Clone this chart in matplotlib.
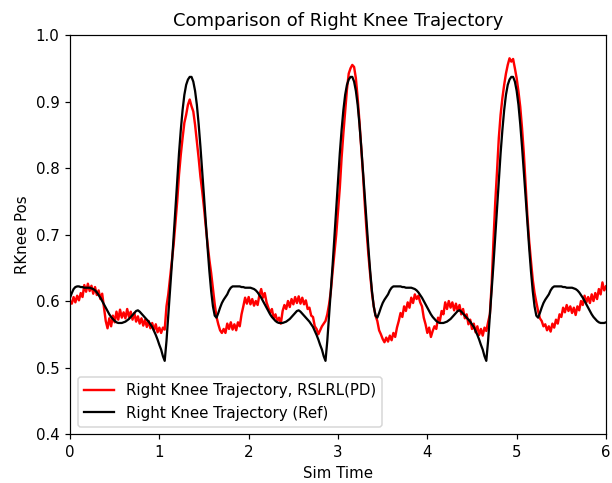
import numpy as np
import matplotlib
matplotlib.use("Agg")
import matplotlib.pyplot as plt

# simulation time, sampled every 0.02 s
sim_time = np.linspace(0, 6, 301)

# right knee position from the RSLRL(PD) policy rollout
knee_policy = [
    0.600, 0.596, 0.606, 0.598, 0.608, 0.601, 0.612, 0.606, 0.624, 0.614,
    0.626, 0.615, 0.623, 0.611, 0.621, 0.609, 0.616, 0.603, 0.611, 0.590,
    0.570, 0.559, 0.574, 0.562, 0.578, 0.568, 0.584, 0.572, 0.587, 0.575,
    0.583, 0.574, 0.588, 0.576, 0.584, 0.572, 0.582, 0.569, 0.577, 0.566,
    0.574, 0.563, 0.572, 0.561, 0.570, 0.559, 0.567, 0.556, 0.565, 0.553,
    0.560, 0.552, 0.560, 0.557, 0.592, 0.610, 0.635, 0.660, 0.685, 0.718,
    0.750, 0.790, 0.820, 0.845, 0.868, 0.880, 0.895, 0.903, 0.893, 0.885,
    0.865, 0.840, 0.815, 0.787, 0.765, 0.740, 0.712, 0.686, 0.662, 0.642,
    0.618, 0.595, 0.576, 0.565, 0.556, 0.552, 0.558, 0.552, 0.566, 0.558,
    0.568, 0.557, 0.565, 0.556, 0.568, 0.562, 0.580, 0.592, 0.605, 0.596,
    0.606, 0.595, 0.603, 0.593, 0.600, 0.594, 0.609, 0.618, 0.605, 0.612,
    0.598, 0.590, 0.582, 0.588, 0.574, 0.580, 0.570, 0.575, 0.566, 0.585,
    0.594, 0.588, 0.600, 0.591, 0.603, 0.595, 0.606, 0.597, 0.607, 0.596,
    0.605, 0.595, 0.601, 0.588, 0.590, 0.578, 0.576, 0.562, 0.558, 0.550,
    0.556, 0.562, 0.566, 0.570, 0.580, 0.595, 0.615, 0.645, 0.672, 0.700,
    0.735, 0.770, 0.815, 0.852, 0.885, 0.918, 0.942, 0.950, 0.955, 0.952,
    0.935, 0.905, 0.870, 0.830, 0.790, 0.745, 0.705, 0.670, 0.640, 0.612,
    0.592, 0.578, 0.570, 0.556, 0.550, 0.543, 0.538, 0.545, 0.539, 0.548,
    0.541, 0.552, 0.546, 0.560, 0.570, 0.582, 0.576, 0.592, 0.585, 0.598,
    0.590, 0.605, 0.597, 0.610, 0.603, 0.608, 0.598, 0.592, 0.575, 0.565,
    0.552, 0.560, 0.546, 0.555, 0.562, 0.558, 0.575, 0.570, 0.585, 0.580,
    0.598, 0.588, 0.600, 0.590, 0.598, 0.586, 0.596, 0.585, 0.594, 0.580,
    0.588, 0.574, 0.580, 0.565, 0.572, 0.558, 0.566, 0.553, 0.562, 0.549,
    0.558, 0.548, 0.560, 0.555, 0.568, 0.580, 0.625, 0.690, 0.748, 0.795,
    0.845, 0.880, 0.905, 0.925, 0.942, 0.955, 0.965, 0.960, 0.964, 0.950,
    0.935, 0.915, 0.892, 0.860, 0.822, 0.775, 0.728, 0.690, 0.660, 0.632,
    0.612, 0.598, 0.585, 0.574, 0.570, 0.562, 0.565, 0.556, 0.562, 0.554,
    0.566, 0.560, 0.572, 0.566, 0.580, 0.576, 0.590, 0.583, 0.594, 0.585,
    0.592, 0.582, 0.590, 0.579, 0.592, 0.586, 0.600, 0.594, 0.608, 0.598,
    0.606, 0.597, 0.610, 0.600, 0.612, 0.603, 0.618, 0.610, 0.628, 0.616,
    0.622,
]

# reference right knee trajectory
knee_ref = [
    0.605, 0.612, 0.618, 0.621, 0.622, 0.622, 0.621, 0.621, 0.620, 0.620,
    0.620, 0.620, 0.619, 0.618, 0.616, 0.613, 0.609, 0.605, 0.600, 0.595,
    0.590, 0.585, 0.580, 0.576, 0.573, 0.570, 0.568, 0.567, 0.567, 0.567,
    0.568, 0.569, 0.571, 0.573, 0.576, 0.579, 0.582, 0.585, 0.586, 0.584,
    0.581, 0.578, 0.575, 0.572, 0.569, 0.565, 0.561, 0.555, 0.549, 0.542,
    0.534, 0.527, 0.517, 0.510, 0.540, 0.578, 0.615, 0.655, 0.697, 0.740,
    0.782, 0.822, 0.857, 0.887, 0.910, 0.925, 0.933, 0.937, 0.937, 0.930,
    0.916, 0.895, 0.866, 0.832, 0.795, 0.757, 0.718, 0.680, 0.645, 0.615,
    0.592, 0.578, 0.575, 0.582, 0.590, 0.597, 0.602, 0.606, 0.610, 0.616,
    0.620, 0.622, 0.622, 0.622, 0.622, 0.622, 0.621, 0.621, 0.620, 0.620,
    0.620, 0.620, 0.619, 0.618, 0.616, 0.613, 0.609, 0.605, 0.600, 0.595,
    0.590, 0.585, 0.580, 0.576, 0.573, 0.570, 0.568, 0.567, 0.567, 0.567,
    0.568, 0.569, 0.571, 0.573, 0.576, 0.579, 0.582, 0.585, 0.586, 0.584,
    0.581, 0.578, 0.575, 0.572, 0.569, 0.565, 0.561, 0.555, 0.549, 0.542,
    0.534, 0.527, 0.517, 0.510, 0.540, 0.578, 0.615, 0.655, 0.697, 0.740,
    0.782, 0.822, 0.857, 0.887, 0.910, 0.925, 0.933, 0.937, 0.937, 0.930,
    0.916, 0.895, 0.866, 0.832, 0.795, 0.757, 0.718, 0.680, 0.645, 0.615,
    0.592, 0.578, 0.575, 0.582, 0.590, 0.597, 0.602, 0.606, 0.610, 0.616,
    0.620, 0.622, 0.622, 0.622, 0.622, 0.622, 0.621, 0.621, 0.620, 0.620,
    0.620, 0.620, 0.619, 0.618, 0.616, 0.613, 0.609, 0.605, 0.600, 0.595,
    0.590, 0.585, 0.580, 0.576, 0.573, 0.570, 0.568, 0.567, 0.567, 0.567,
    0.568, 0.569, 0.571, 0.573, 0.576, 0.579, 0.582, 0.585, 0.586, 0.584,
    0.581, 0.578, 0.575, 0.572, 0.569, 0.565, 0.561, 0.555, 0.549, 0.542,
    0.534, 0.527, 0.517, 0.510, 0.540, 0.578, 0.615, 0.655, 0.697, 0.740,
    0.782, 0.822, 0.857, 0.887, 0.910, 0.925, 0.933, 0.937, 0.937, 0.930,
    0.916, 0.895, 0.866, 0.832, 0.795, 0.757, 0.718, 0.680, 0.645, 0.615,
    0.592, 0.578, 0.575, 0.582, 0.590, 0.597, 0.602, 0.606, 0.610, 0.616,
    0.620, 0.622, 0.622, 0.622, 0.622, 0.622, 0.621, 0.621, 0.620, 0.620,
    0.620, 0.620, 0.619, 0.618, 0.616, 0.613, 0.609, 0.605, 0.600, 0.595,
    0.590, 0.585, 0.580, 0.576, 0.573, 0.570, 0.568, 0.567, 0.567, 0.567,
    0.568,
]

dpi = 108
fig = plt.figure(figsize=(612 / dpi, 483 / dpi), dpi=dpi)
ax = fig.add_axes([0.1144, 0.1014, 0.8758, 0.8261])

ax.plot(sim_time, knee_policy, c="red", lw=1.6, label="Right Knee Trajectory, RSLRL(PD)")
ax.plot(sim_time, knee_ref, c="black", lw=1.5, label="Right Knee Trajectory (Ref)")

ax.set_xlim(0, 6)
ax.set_ylim(0.4, 1.0)
ax.set_xlabel("Sim Time")
ax.set_ylabel("RKnee Pos")
ax.set_title("Comparison of Right Knee Trajectory")
ax.legend(loc="lower left")

fig.savefig("out.png", dpi=dpi)
plt.close()
